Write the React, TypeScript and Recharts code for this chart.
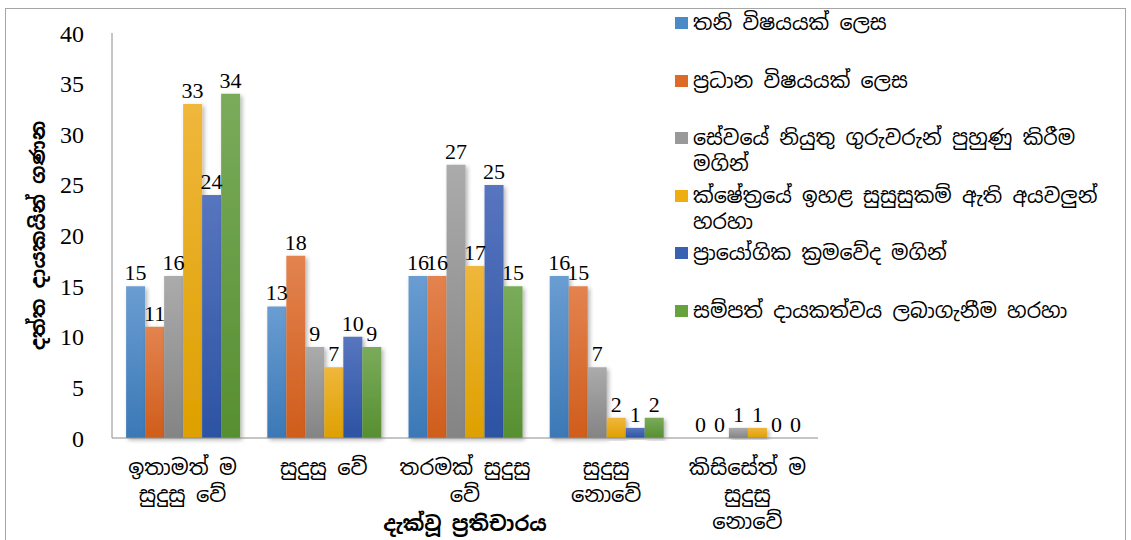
import React from 'react';
import { BarChart, Bar, XAxis, YAxis, Legend, LabelList } from 'recharts';

const categories = [
  'ඉතාමත් ම සුදුසු වේ',
  'සුදුසු වේ',
  'තරමක් සුදුසු වේ',
  'සුදුසු නොවේ',
  'කිසිසේත් ම සුදුසු නොවේ',
];

// how each category label breaks over lines
const categoryLines: Record<string, string[]> = {
  'ඉතාමත් ම සුදුසු වේ': ['ඉතාමත් ම', 'සුදුසු වේ'],
  'සුදුසු වේ': ['සුදුසු වේ'],
  'තරමක් සුදුසු වේ': ['තරමක් සුදුසු', 'වේ'],
  'සුදුසු නොවේ': ['සුදුසු', 'නොවේ'],
  'කිසිසේත් ම සුදුසු නොවේ': ['කිසිසේත් ම', 'සුදුසු', 'නොවේ'],
};

const seriesNames = [
  'තනි විෂයයක් ලෙස',
  'ප්‍රධාන විෂයයක් ලෙස',
  'සේවයේ නියුතු ගුරුවරුන් පුහුණු කිරීම මගින්',
  'ක්ෂේත්‍රයේ ඉහළ සුසුසුකම් ඇති අයවලුන් හරහා',
  'ප්‍රායෝගික ක්‍රමවේද මගින්',
  'සම්පත් දායකත්වය ලබාගැනීම හරහා',
];

const legendLines = [
  ['තනි විෂයයක් ලෙස'],
  ['ප්‍රධාන විෂයයක් ලෙස'],
  ['සේවයේ නියුතු ගුරුවරුන් පුහුණු කිරීම', 'මගින්'],
  ['ක්ෂේත්‍රයේ ඉහළ සුසුසුකම් ඇති අයවලුන්', 'හරහා'],
  ['ප්‍රායෝගික ක්‍රමවේද මගින්'],
  ['සම්පත් දායකත්වය ලබාගැනීම හරහා'],
];

const s1 = [15, 13, 16, 16, 0];
const s2 = [11, 18, 16, 15, 0];
const s3 = [16, 9, 27, 7, 1];
const s4 = [33, 7, 17, 2, 1];
const s5 = [24, 10, 25, 1, 0];
const s6 = [34, 9, 15, 2, 0];

const yTicks = [0, 5, 10, 15, 20, 25, 30, 35, 40];

const COLORS = ['#4a8ac6', '#dd6a27', '#999999', '#eeae12', '#3a60b2', '#66a33e'];
const GRAD = [
  ['#6a9dd2', '#3b78b6'],
  ['#e3834f', '#cf5d1b'],
  ['#ababab', '#848484'],
  ['#efb73c', '#dea000'],
  ['#5875bf', '#2c53a3'],
  ['#7aab5b', '#578f31'],
];

const allSeries = [s1, s2, s3, s4, s5, s6];
const keys = ['s1', 's2', 's3', 's4', 's5', 's6'];

const data = categories.map((c, i) => {
  const row: any = { name: c };
  keys.forEach((k, j) => (row[k] = allSeries[j][i]));
  return row;
});

const SINHALA = '"Noto Sans Sinhala", "Iskoola Pota", "Noto Sans", sans-serif';
const SERIF = '"Liberation Serif", "DejaVu Serif", serif';

const CategoryTick = (props: any) => {
  const { x, y, payload } = props;
  const lines = categoryLines[payload.value] || [payload.value];
  return (
    <text x={x} y={y} textAnchor="middle" fontFamily={SINHALA} fontSize={21} fill="#000">
      {lines.map((l, i) => (
        <tspan key={i} x={x} dy={i === 0 ? 29 : 27}>
          {l}
        </tspan>
      ))}
    </text>
  );
};

const LegendBox = () => (
  <div style={{ fontFamily: SINHALA, fontSize: 20.5, color: '#000', textAlign: 'left' }}>
    {legendLines.map((lines, i) => (
      <div key={i} style={{ display: 'flex', height: 57.5, alignItems: 'flex-start' }}>
        <div style={{ width: 13, height: 12, background: COLORS[i], marginTop: 7, marginRight: 5, flex: 'none' }} />
        <div style={{ lineHeight: '26px', whiteSpace: 'nowrap' }}>
          {lines.map((l, k) => (
            <div key={k}>{l}</div>
          ))}
        </div>
      </div>
    ))}
  </div>
);

export default function App() {
  return (
    <div style={{ position: 'absolute', left: 0, top: 0, width: 1131, height: 540, background: '#fff', overflow: 'hidden' }}>
      <div style={{ position: 'absolute', left: 5, top: 8, width: 1119, height: 560, border: '1px solid #a6a6a6' }} />
      <BarChart
        width={1131}
        height={540}
        data={data}
        margin={{ top: 33, right: 313, bottom: 7, left: 22 }}
        barCategoryGap="10%"
        barGap={0}
        style={{ position: 'absolute', left: 0, top: 0 }}
      >
        <defs>
          {GRAD.map((g, i) => (
            <linearGradient key={i} id={`g${i}`} x1="0" y1="0" x2="0" y2="1">
              <stop offset="0%" stopColor={g[0]} />
              <stop offset="100%" stopColor={g[1]} />
            </linearGradient>
          ))}
          <filter id="shadow" x="-20%" y="-5%" width="150%" height="115%">
            <feDropShadow dx="2" dy="2" stdDeviation="2" floodColor="#000" floodOpacity="0.3" />
          </filter>
        </defs>
        <XAxis
          dataKey="name"
          height={95}
          tickLine={false}
          axisLine={{ stroke: '#8c8c8c' }}
          interval={0}
          tick={<CategoryTick />}
          label={{
            value: 'දැක්වූ ප්‍රතිචාරය',
            position: 'insideBottom',
            offset: 2,
            style: { fontFamily: SINHALA, fontSize: 20.5, fontWeight: 'bold', fill: '#000' },
          }}
        />
        <YAxis
          width={90}
          domain={[0, 40]}
          ticks={yTicks}
          tickLine={false}
          tickSize={0}
          tickMargin={28}
          axisLine={{ stroke: '#8c8c8c' }}
          tick={{ fontFamily: SERIF, fontSize: 24, fill: '#000' }}
          label={{
            value: 'දත්ත දායකයින් ගණන',
            angle: -90,
            position: 'insideLeft',
            offset: 16,
            style: { textAnchor: 'middle', fontFamily: SINHALA, fontSize: 20, fontWeight: 'bold', fill: '#000' },
          }}
        />
        <Legend
          layout="vertical"
          verticalAlign="middle"
          align="center"
          content={<LegendBox />}
          wrapperStyle={{ left: 675, top: 10, width: 450 }}
        />
        {keys.map((k, i) => (
          <Bar
            key={k}
            dataKey={k}
            name={seriesNames[i]}
            fill={`url(#g${i})`}
            filter="url(#shadow)"
            minPointSize={0.01}
            isAnimationActive={false}
          >
            <LabelList
              dataKey={k}
              position="top"
              offset={6}
              style={{ fontFamily: SERIF, fontSize: 22, fill: '#000' }}
            />
          </Bar>
        ))}
      </BarChart>
    </div>
  );
}
